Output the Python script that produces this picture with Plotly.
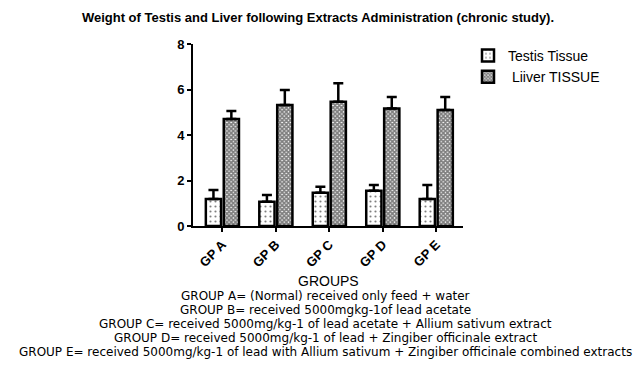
import plotly.graph_objects as go

groups = ["GP A", "GP B", "GP C", "GP D", "GP E"]
testis = [1.19, 1.07, 1.46, 1.55, 1.19]
testis_err = [0.39, 0.29, 0.27, 0.25, 0.61]
liver = [4.70, 5.32, 5.46, 5.17, 5.10]
liver_err = [0.35, 0.66, 0.81, 0.50, 0.57]
notes = [
    "GROUP A= (Normal) received only feed + water",
    "GROUP B= received 5000mgkg-1of lead acetate",
    "GROUP C= received 5000mg/kg-1 of lead acetate + Allium sativum extract",
    "GROUP D= received 5000mg/kg-1 of lead + Zingiber officinale extract",
    "GROUP E= received 5000mg/kg-1 of lead with Allium sativum + Zingiber officinale combined extracts",
]

W, H = 641, 365
L, R, T, B = 193, 463, 44, 226
font = "Liberation Sans, Arial, sans-serif"
nfont = "DejaVu Sans, sans-serif"

fig = go.Figure()
fig.add_trace(go.Bar(
    x=groups, y=testis, name="Testis Tissue",
    marker=dict(color="white", line=dict(color="black", width=2.5),
                pattern=dict(shape=".", fgcolor="black", bgcolor="white", size=5, solidity=0.15)),
    error_y=dict(type="data", array=testis_err, arrayminus=[0]*5, symmetric=False,
                 color="black", thickness=2.5, width=5),
))
fig.add_trace(go.Bar(
    x=groups, y=liver, name=" Liiver TISSUE",
    marker=dict(color="white", line=dict(color="black", width=2.5),
                pattern=dict(shape="x", fgcolor="black", bgcolor="white", size=3, solidity=0.8)),
    error_y=dict(type="data", array=liver_err, arrayminus=[0]*5, symmetric=False,
                 color="black", thickness=2.5, width=5),
))

def py(ypx):
    return (B - ypx) / (B - T)

anns = [dict(text="GROUPS", x=(328 - L) / (R - L), y=py(281), xref="paper", yref="paper",
             xanchor="center", yanchor="middle",
             showarrow=False, font=dict(family=font, size=14, color="black"))]
for i, t in enumerate(notes):
    anns.append(dict(text=t, x=(325 - L) / (R - L), y=py(296 + 14 * i), xref="paper", yref="paper",
                     xanchor="center", yanchor="middle",
                     showarrow=False, font=dict(family=nfont, size=12, color="black")))

fig.update_layout(
    width=W, height=H,
    margin=dict(l=L, r=W - R, t=T, b=H - B, pad=0),
    paper_bgcolor="white", plot_bgcolor="white",
    title=dict(text="<b>Weight of Testis and Liver following Extracts Administration (chronic study).</b>",
               x=318 / W, xanchor="center", y=1 - 17 / H, yanchor="middle",
               font=dict(family=font, size=13, color="black")),
    bargap=0.33, bargroupgap=0.15,
    showlegend=True,
    legend=dict(x=(468 - L) / (R - L), y=py(40), xanchor="left", yanchor="top",
                font=dict(family=font, size=14, color="black"), bgcolor="rgba(0,0,0,0)",
                tracegroupgap=3),
    annotations=anns,
    font=dict(family=font, color="black"),
)
fig.update_xaxes(range=[-0.55, 4.5], showline=True, linecolor="black", linewidth=2,
                 ticks="outside", ticklen=4, tickwidth=2, tickcolor="black",
                 tickangle=-45, tickfont=dict(family=font, size=13, color="black", weight="bold"),
                 showgrid=False, zeroline=False)
fig.update_yaxes(range=[0, 8], tickvals=[0, 2, 4, 6, 8], showline=True, linecolor="black", linewidth=2,
                 ticks="outside", ticklen=4, tickwidth=2, tickcolor="black",
                 tickfont=dict(family=font, size=13, color="black", weight="bold"),
                 showgrid=False, zeroline=False)

fig.write_html("out.html", config={"displayModeBar": False},
               post_script="document.body.style.margin='0';")
